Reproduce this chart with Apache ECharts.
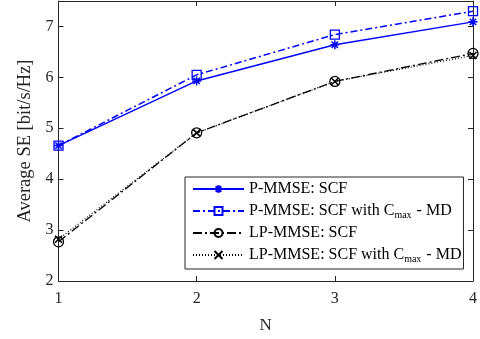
<!DOCTYPE html>
<html><head><meta charset="utf-8">
<script src="https://cdn.jsdelivr.net/npm/echarts@6/dist/echarts.min.js"></script>
<style>html,body{margin:0;padding:0;background:#fff}#c{width:480px;height:339px}</style>
</head><body><div id="c"></div>
<script>
const N = [1, 2, 3, 4];
const pScf = [4.66, 5.93, 6.64, 7.09];
const pScfCmax = [4.66, 6.05, 6.84, 7.30];
const lpScf = [2.77, 4.91, 5.92, 6.47];
const lpScfCmax = [2.82, 4.91, 5.92, 6.43];
const names = ['P-MMSE: SCF', 'P-MMSE: SCF with Cmax - MD', 'LP-MMSE: SCF', 'LP-MMSE: SCF with Cmax - MD'];
const yTicks = [2, 3, 4, 5, 6, 7];

const FONT = 'Liberation Serif';
const AX = '#262626';
const star = 'path://M5,0L5,10M0,5L10,5M1.5,1.5L8.5,8.5M8.5,1.5L1.5,8.5';
const cross = 'path://M0,0L10,10M10,0L0,10';
const pts = ys => N.map((x, i) => [x, ys[i]]);

const chart = echarts.init(document.getElementById('c'), null, {renderer: 'canvas'});
const baseAxis = {
  type: 'value', axisLine: {show: true, lineStyle: {color: AX, width: 1}},
  axisTick: {show: true, inside: true, length: 5, lineStyle: {color: AX}},
  splitLine: {show: false}
};
chart.setOption({
  animation: false,
  grid: {left: 58.5, right: 7, top: 1, bottom: 54.5, containLabel: false},
  xAxis: [
    Object.assign({}, baseAxis, {min: 1, max: 4, interval: 1, position: 'bottom',
      name: 'N', nameLocation: 'middle', nameGap: 36,
      nameTextStyle: {fontFamily: FONT, fontSize: 17, color: AX},
      axisLabel: {fontFamily: FONT, fontSize: 16, color: AX, margin: 10}}),
    Object.assign({}, baseAxis, {min: 1, max: 4, interval: 1, position: 'top', axisLabel: {show: false}})
  ],
  yAxis: [
    Object.assign({}, baseAxis, {min: 2, max: 7.5, interval: 1, position: 'left',
      name: 'Average SE [bit/s/Hz]', nameLocation: 'middle', nameGap: 21,
      nameTextStyle: {fontFamily: FONT, fontSize: 18.5, color: AX},
      axisLabel: {fontFamily: FONT, fontSize: 16, color: AX, margin: 5, showMaxLabel: false,
        formatter: v => yTicks.indexOf(v) >= 0 ? String(v) : ''}}),
    Object.assign({}, baseAxis, {min: 2, max: 7.5, interval: 1, position: 'right', axisLabel: {show: false}})
  ],
  legend: {
    orient: 'vertical', left: 185, top: 177,
    backgroundColor: '#fff', borderColor: AX, borderWidth: 1,
    padding: [4, 2, 5, 7], itemGap: 5, itemWidth: 51, itemHeight: 10,
    data: names,
    formatter: n => {
      const i = n.indexOf('Cmax');
      if (i < 0) return '{n|' + n + '}';
      return '{n|' + n.slice(0, i + 1) + '}{s|max}{n|' + n.slice(i + 4) + '}';
    },
    textStyle: {
      fontFamily: FONT, fontSize: 16, color: '#000',
      rich: {
        n: {fontFamily: FONT, fontSize: 16, color: '#000', lineHeight: 17},
        s: {fontFamily: FONT, fontSize: 10, color: '#000', lineHeight: 17, padding: [8, 1, 0, 0]}
      }
    }
  },
  series: [
    {name: names[0], type: 'line', data: pts(pScf), symbol: star, symbolSize: 9,
      lineStyle: {color: '#0000ff', width: 1.5, type: 'solid'},
      itemStyle: {color: 'none', borderColor: '#0000ff', borderWidth: 1.5}, z: 3},
    {name: names[1], type: 'line', data: pts(pScfCmax), symbol: 'rect', symbolSize: 9,
      lineStyle: {color: '#0000ff', width: 1.5, type: [7, 3, 2, 3]},
      itemStyle: {color: 'none', borderColor: '#0000ff', borderWidth: 1.3}, z: 2},
    {name: names[2], type: 'line', data: pts(lpScf), symbol: 'circle', symbolSize: 10,
      lineStyle: {color: '#000', width: 1.3, type: [9, 3, 2, 3]},
      itemStyle: {color: 'none', borderColor: '#000', borderWidth: 1.3}, z: 2},
    {name: names[3], type: 'line', data: pts(lpScfCmax), symbol: cross, symbolSize: 7,
      lineStyle: {color: '#000', width: 1.2, type: [1, 2]},
      itemStyle: {color: 'none', borderColor: '#000', borderWidth: 1.5}, z: 3}
  ]
});
</script></body></html>
